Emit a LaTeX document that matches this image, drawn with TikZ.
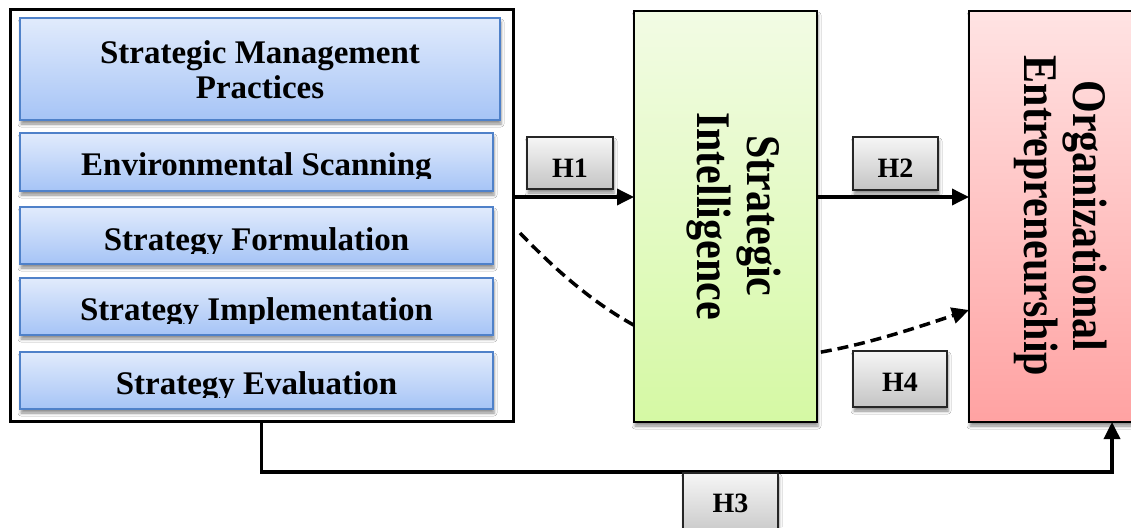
\documentclass[tikz,border=0pt]{standalone}
\usepackage{fontspec}
\setmainfont{Liberation Serif}
\usetikzlibrary{arrows.meta,shadows.blur}

\definecolor{bluetop}{HTML}{E1EBFC}
\definecolor{bluebot}{HTML}{A6C4F6}
\definecolor{blueedge}{HTML}{4F81C9}
\definecolor{greentop}{HTML}{F2FBE4}
\definecolor{greenbot}{HTML}{D5F9A4}
\definecolor{redtop}{HTML}{FFE3E3}
\definecolor{redbot}{HTML}{FFA2A2}
\definecolor{graytop}{HTML}{F6F6F6}
\definecolor{graybot}{HTML}{C4C4C4}

\begin{document}
\begin{tikzpicture}[x=1pt,y=-1pt,
  softshadow/.style={blur shadow={shadow xshift=1pt, shadow yshift=-4pt,
      shadow blur radius=3pt, shadow opacity=45}},
  plainrect/.style={rectangle, inner sep=0pt, outer sep=0pt},
  bluebox/.style={plainrect, draw=blueedge, line width=1.4pt,
      top color=bluetop, bottom color=bluebot, softshadow},
  bluetext/.style={inner sep=0pt, font=\fontsize{33}{35}\selectfont\bfseries},
  bigbox/.style={plainrect, draw=black, line width=2pt, softshadow},
  vtext/.style={inner sep=0pt, rotate=-90, yscale=1.15, align=center},
  hbox/.style={plainrect, draw=black!85, line width=1.5pt,
      top color=graytop, bottom color=graybot, softshadow,
      font=\fontsize{28}{30}\selectfont\bfseries, text height=28pt, text depth=0pt},
  arrowline/.style={line width=3.5pt, -{Triangle[length=17pt,width=16pt]}},
  dashedarrow/.style={line width=3.5pt, dash pattern=on 11pt off 6pt,
      -{Triangle[length=17pt,width=16pt]}}
]
\fill[white] (0,0) rectangle (1131,527);
\clip (0,0) rectangle (1131,527);

% curved link that runs behind the intelligence box
\coordinate (h4start) at (520,233);
\coordinate (h4end) at (969,310);
\draw[dashedarrow] (h4start) .. controls (670,390) and (775,376) .. (h4end);

% left frame holding the practice boxes
\node[plainrect, draw=black, line width=3pt, minimum width=503pt, minimum height=411pt]
  (outer) at (261.5,215.5) {};

\node[bluebox, minimum width=480pt, minimum height=102pt] (smp) at (260,69) {};
\node[bluetext, align=center] (smptext) at (260,69.6) {Strategic Management\\Practices};

\node[bluebox, minimum width=473pt, minimum height=58pt] (es) at (256.5,162) {};
\begin{scope}
  \clip (es.north west) rectangle (es.east |- 0,178.5);
  \node[bluetext, anchor=base] (estext) at (256.5,175) {Environmental Scanning};
\end{scope}

\node[bluebox, minimum width=473pt, minimum height=57pt] (sf) at (256.5,235.5) {};
\begin{scope}
  \clip (sf.north west) rectangle (sf.east |- 0,253.5);
  \node[bluetext, anchor=base] (sftext) at (256.5,250) {Strategy Formulation};
\end{scope}

\node[bluebox, minimum width=473pt, minimum height=57pt] (sim) at (256.5,306.5) {};
\begin{scope}
  \clip (sim.north west) rectangle (sim.east |- 0,323.5);
  \node[bluetext, anchor=base] (simtext) at (256.5,320) {Strategy Implementation};
\end{scope}

\node[bluebox, minimum width=473pt, minimum height=57pt] (sev) at (256.5,380.5) {};
\begin{scope}
  \clip (sev.north west) rectangle (sev.east |- 0,397.5);
  \node[bluetext, anchor=base] (sevtext) at (256.5,394) {Strategy Evaluation};
\end{scope}

% mediator and outcome
\node[bigbox, top color=greentop, bottom color=greenbot,
  minimum width=183pt, minimum height=411pt] (si) at (725.5,216.5) {};
\node[vtext, font=\fontsize{42}{43.5}\selectfont\bfseries] (sitext) at (733.5,216)
  {Strategic\\Intelligence};

\node[bigbox, top color=redtop, bottom color=redbot,
  minimum width=181pt, minimum height=411pt] (oe) at (1059.5,216.5) {};
\node[vtext, font=\fontsize{42}{42.6}\selectfont\bfseries] (oetext) at (1061,216)
  {Organizational\\Entrepreneurship};

% hypothesised paths
\draw[arrowline] (outer.east |- 0,197) -- (si.west |- 0,197);
\draw[arrowline] (si.east |- 0,197) -- (oe.west |- 0,197);
\coordinate (h3turn) at (1112,472);
\coordinate (h3end) at (1112,422);
\draw[arrowline] (outer.south) |- (h3turn) -- (h3end);

% hypothesis labels
\node[hbox, minimum width=86pt, minimum height=52pt] (h1) at (570,163) {H1};
\node[hbox, minimum width=85pt, minimum height=53pt] (h2) at (895.5,163.5) {H2};
\node[hbox, minimum width=94pt, minimum height=56pt, text height=24pt] (h4) at (900,379) {H4};
\node[hbox, minimum width=95pt, minimum height=67pt, text height=11pt] (h3) at (730.5,506.5) {H3};
\end{tikzpicture}
\end{document}
